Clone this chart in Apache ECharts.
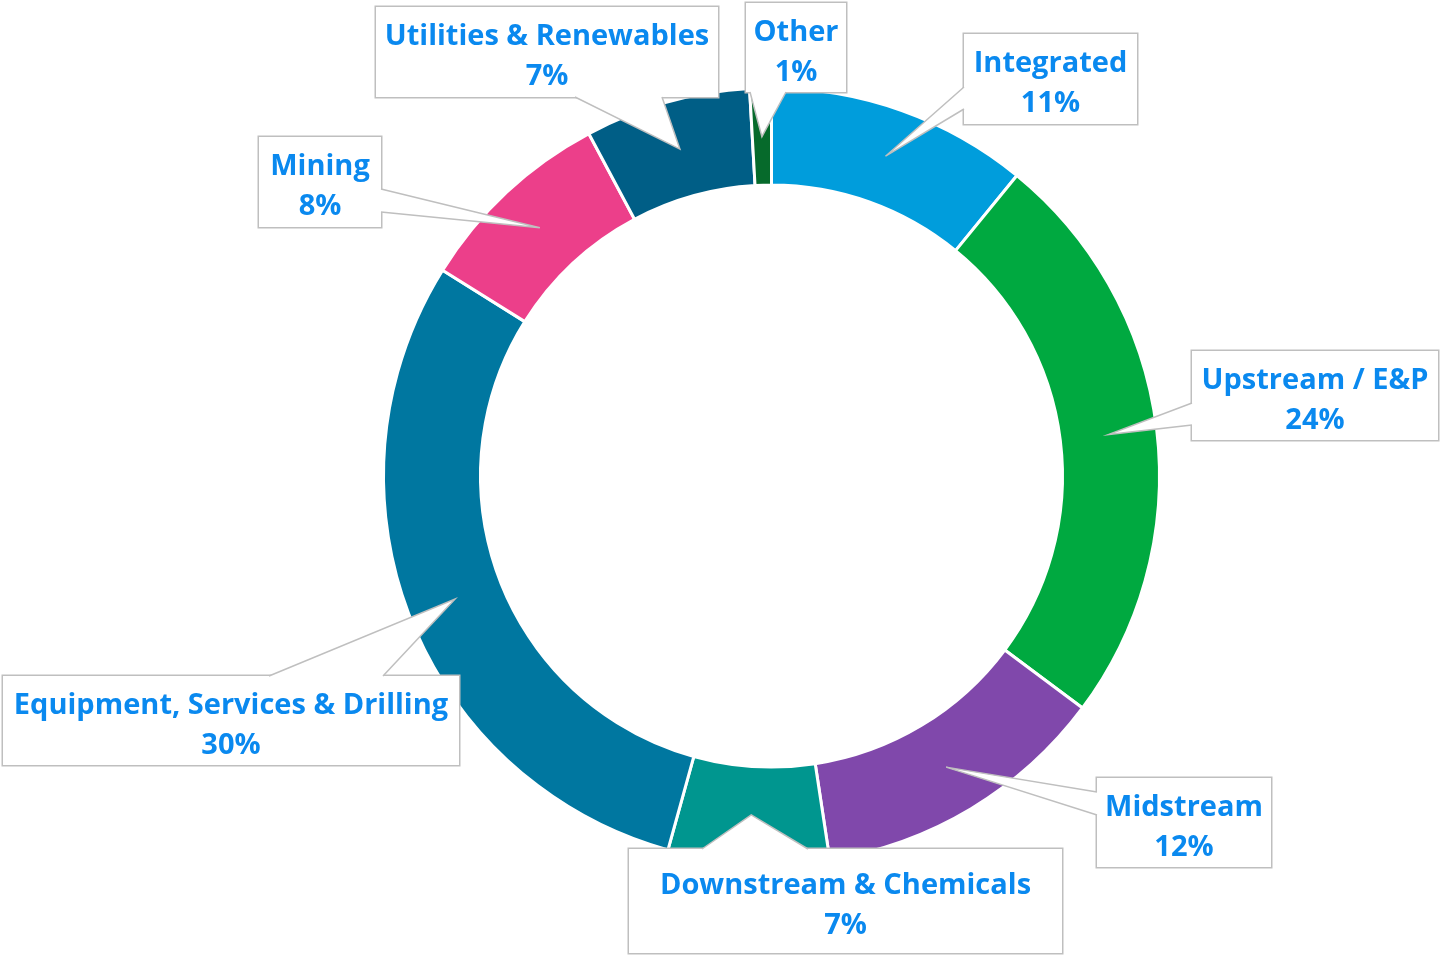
<!DOCTYPE html>
<html>
<head>
<meta charset="utf-8">
<title>Sector split</title>
<script src="https://cdn.jsdelivr.net/npm/echarts@6/dist/echarts.min.js"></script>
<style>
  html, body { margin: 0; padding: 0; background: #fff; }
  #chart { width: 1440px; height: 955px; }
</style>
</head>
<body>
<div id="chart"></div>
<script>
// data
const sectors = ['Integrated', 'Upstream / E&P', 'Midstream', 'Downstream & Chemicals',
  'Equipment, Services & Drilling', 'Mining', 'Utilities & Renewables', 'Other']
const shares = [10.9, 24.3, 12.4, 6.7, 29.6, 8.3, 6.9, 0.9]
const colors = ['#009ddc', '#00a940', '#8048ab', '#00968f', '#0077a0', '#ec3f8a', '#005e86', '#066a2b']

// callout boxes [left, top, right, bottom] and wedge bases on the box edge
const boxes = [
  [964, 34, 1137, 124],
  [1192, 351, 1438, 440],
  [1097, 778, 1271, 867],
  [629, 849, 1062, 953],
  [3, 676, 459, 765],
  [259, 137, 381, 227],
  [376, 7, 718, 97],
  [746, 3, 846, 92]
]
const wedgeBases = [
  [[964, 87], [964, 109]],
  [[1192, 403], [1192, 425]],
  [[1097, 792], [1097, 815]],
  [[702, 849], [808, 849]],
  [[269, 676], [383, 676]],
  [[381, 189], [381, 212]],
  [[575, 97], [662, 97]],
  [[750, 92], [786, 92]]
]

const CENTER = [771.5, 476]
const RADIUS = [291, 388]
const LINE_GRAY = '#bfbfbf'
const TEXT_BLUE = '#0a89ef'
const LINE_H = 40

let chart = echarts.init(document.getElementById('chart'))

let textStyle = {
  fontFamily: '"Open Sans", Lato, sans-serif',
  fontWeight: 'bold',
  fontSize: 29,
  lineHeight: LINE_H,
  color: TEXT_BLUE
}

// top padding that centres the two lines in each box (a bit low, like the original)
function padTop (b) {
  return Math.round((b[3] - b[1] - 2 * LINE_H) / 2 + 5)
}

let option = {
  animation: false,
  backgroundColor: '#fff',
  series: [{
    type: 'pie',
    center: CENTER,
    radius: RADIUS,
    startAngle: 90,
    clockwise: true,
    avoidLabelOverlap: false,
    itemStyle: { borderColor: '#fff', borderWidth: 3 },
    label: Object.assign({
      show: true,
      position: 'outside',
      formatter: p => '{t|' + p.name + '}\n{t|' + Math.round(p.percent) + '%}',
      rich: { t: textStyle },
      backgroundColor: '#fff',
      borderColor: LINE_GRAY,
      borderWidth: 1.5
    }, textStyle),
    labelLine: { show: false },
    labelLayout: function (params) {
      let b = boxes[params.dataIndex]
      return {
        x: (b[0] + b[2]) / 2,
        y: (b[1] + b[3]) / 2,
        width: b[2] - b[0],
        height: b[3] - b[1] - padTop(b),
        align: 'center',
        verticalAlign: 'middle'
      }
    },
    data: sectors.map((name, i) => ({
      name: name,
      value: shares[i],
      itemStyle: { color: colors[i] },
      label: { padding: [padTop(boxes[i]), 0, 0, 0] }
    }))
  }]
}
chart.setOption(option)

// callout wedges: tip sits in the middle of each ring segment
function getTip (i) {
  let data = chart.getModel().getSeriesByIndex(0).getData()
  let lay = data.getItemLayout(i)
  let mid = (lay.startAngle + lay.endAngle) / 2
  let r = (lay.r + lay.r0) / 2
  return [lay.cx + r * Math.cos(mid), lay.cy + r * Math.sin(mid)]
}

let graphics = []
for (let i = 0; i < sectors.length; i++) {
  let tip = getTip(i)
  let a = wedgeBases[i][0]
  let b = wedgeBases[i][1]
  let box = boxes[i]
  // push base a little into the box so the white fill hides the box border
  let a2, b2
  if (a[0] === b[0]) {
    let s = (box[0] + box[2]) / 2 > a[0] ? 2 : -2
    a2 = [a[0] + s, a[1]]
    b2 = [b[0] + s, b[1]]
  } else {
    let s = (box[1] + box[3]) / 2 > a[1] ? 2 : -2
    a2 = [a[0], a[1] + s]
    b2 = [b[0], b[1] + s]
  }
  graphics.push({
    type: 'polygon',
    z: 10,
    silent: true,
    shape: { points: [a2, a, tip, b, b2] },
    style: { fill: '#fff', stroke: null }
  })
  graphics.push({
    type: 'polyline',
    z: 11,
    silent: true,
    shape: { points: [a, tip, b] },
    style: { fill: null, stroke: LINE_GRAY, lineWidth: 1.5 }
  })
}
chart.setOption({ graphic: graphics })
</script>
</body>
</html>
